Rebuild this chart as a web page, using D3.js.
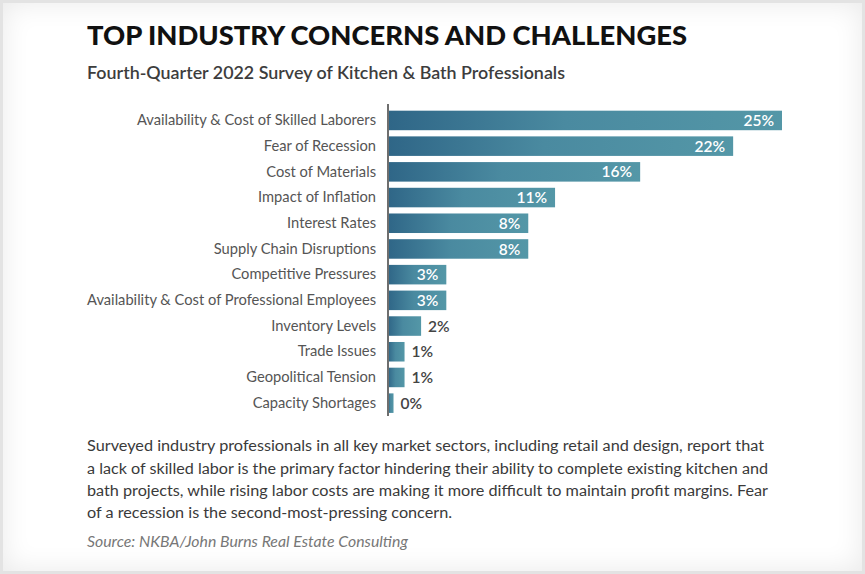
<!DOCTYPE html>
<html>
<head>
<meta charset="utf-8">
<script src="https://cdn.jsdelivr.net/npm/d3@7"></script>
<style>
  html, body { margin: 0; padding: 0; background: #e3e3e3; }
  #chart { position: absolute; left: 3px; top: 3px; width: 859px; height: 568px;
           background: #fff; box-shadow: inset 0 0 28px rgba(0,0,0,0.09); }
  svg { display: block; }
  text { font-family: Lato, "Open Sans", sans-serif; }
</style>
</head>
<body>
<div id="chart"></div>
<script>
// survey answers, top to bottom
let categories = [
  "Availability & Cost of Skilled Laborers",
  "Fear of Recession",
  "Cost of Materials",
  "Impact of Inflation",
  "Interest Rates",
  "Supply Chain Disruptions",
  "Competitive Pressures",
  "Availability & Cost of Professional Employees",
  "Inventory Levels",
  "Trade Issues",
  "Geopolitical Tension",
  "Capacity Shortages"
];
// bar lengths as drawn
let values = [25, 21.9, 16, 10.6, 8.9, 8.9, 3.7, 3.7, 2.1, 1.05, 1.05, 0.35];
// printed labels
let valueLabels = ["25%", "22%", "16%", "11%", "8%", "8%", "3%", "3%", "2%", "1%", "1%", "0%"];

let paragraph = [
  "Surveyed industry professionals in all key market sectors, including retail and design, report that",
  "a lack of skilled labor is the primary factor hindering their ability to complete existing kitchen and",
  "bath projects, while rising labor costs are making it more difficult to maintain profit margins. Fear",
  "of a recession is the second-most-pressing concern."
];
let paragraphWidths = [677, 681, 681, 365];

let width = 859, height = 568;
let ox = -3, oy = -3; // page coords -> div coords

let svg = d3.select("#chart").append("svg")
    .attr("width", width)
    .attr("height", height)
    .append("g")
    .attr("transform", `translate(${ox}, ${oy})`);

let defs = svg.append("defs");
let grad = defs.append("linearGradient")
    .attr("id", "barGrad")
    .attr("x1", "0%").attr("x2", "100%")
    .attr("y1", "0%").attr("y2", "0%");
grad.append("stop").attr("offset", "0%").attr("stop-color", "#2f6687");
grad.append("stop").attr("offset", "45%").attr("stop-color", "#4a8aa0");
grad.append("stop").attr("offset", "100%").attr("stop-color", "#5497a7");

// titles
svg.append("text")
    .attr("x", 87).attr("y", 45)
    .attr("textLength", 600)
    .attr("lengthAdjust", "spacingAndGlyphs")
    .style("font-size", "26px")
    .style("font-weight", 900)
    .style("fill", "#111")
    .text("TOP INDUSTRY CONCERNS AND CHALLENGES");

svg.append("text")
    .attr("x", 87).attr("y", 79)
    .attr("textLength", 478)
    .attr("lengthAdjust", "spacingAndGlyphs")
    .style("font-size", "17px")
    .style("font-weight", 600)
    .style("fill", "#3d3d3d")
    .text("Fourth-Quarter 2022 Survey of Kitchen & Bath Professionals");

// scales
let x = d3.scaleLinear()
    .domain([0, 25])
    .range([388, 782]);

let y = d3.scaleBand()
    .domain(categories)
    .range([107.6, 416])
    .paddingInner(0.24)
    .paddingOuter(0.12);

// bars
svg.append("g")
    .selectAll("rect")
    .data(categories)
    .enter()
    .append("rect")
    .attr("x", x(0))
    .attr("y", d => y(d))
    .attr("width", (d, i) => x(values[i]) - x(0))
    .attr("height", y.bandwidth())
    .attr("fill", "url(#barGrad)");

// category axis
let yAxis = svg.append("g")
    .attr("transform", `translate(${x(0)}, 0)`)
    .call(d3.axisLeft(y).tickSize(0).tickPadding(12));
yAxis.select(".domain").remove();
yAxis.selectAll("text")
    .style("font-family", "Lato, sans-serif")
    .style("font-size", "14.7px")
    .style("fill", "#555");

svg.append("line")
    .attr("x1", x(0)).attr("x2", x(0))
    .attr("y1", 104).attr("y2", 416)
    .attr("stroke", "#6e6e6e")
    .attr("stroke-width", 2);

// value labels
svg.append("g")
    .selectAll("text")
    .data(categories)
    .enter()
    .append("text")
    .attr("x", (d, i) => values[i] >= 3 ? x(values[i]) - 8 : x(values[i]) + 7)
    .attr("y", d => y(d) + y.bandwidth() / 2)
    .attr("dy", "0.36em")
    .attr("text-anchor", (d, i) => values[i] >= 3 ? "end" : "start")
    .style("font-size", "15.5px")
    .style("font-weight", 600)
    .style("fill", (d, i) => values[i] >= 3 ? "#fff" : "#444")
    .text((d, i) => valueLabels[i]);

// note text
let baselines = [451, 473.5, 496, 518];
svg.append("g")
    .selectAll("text")
    .data(paragraph)
    .enter()
    .append("text")
    .attr("x", 87)
    .attr("y", (d, i) => baselines[i])
    .attr("textLength", (d, i) => paragraphWidths[i])
    .attr("lengthAdjust", "spacingAndGlyphs")
    .style("font-size", "15.5px")
    .style("fill", "#3a3a3a")
    .text(d => d);

svg.append("text")
    .attr("x", 87).attr("y", 547)
    .attr("textLength", 321)
    .attr("lengthAdjust", "spacingAndGlyphs")
    .style("font-size", "15.5px")
    .style("font-style", "italic")
    .style("fill", "#777")
    .text("Source: NKBA/John Burns Real Estate Consulting");
</script>
</body>
</html>
